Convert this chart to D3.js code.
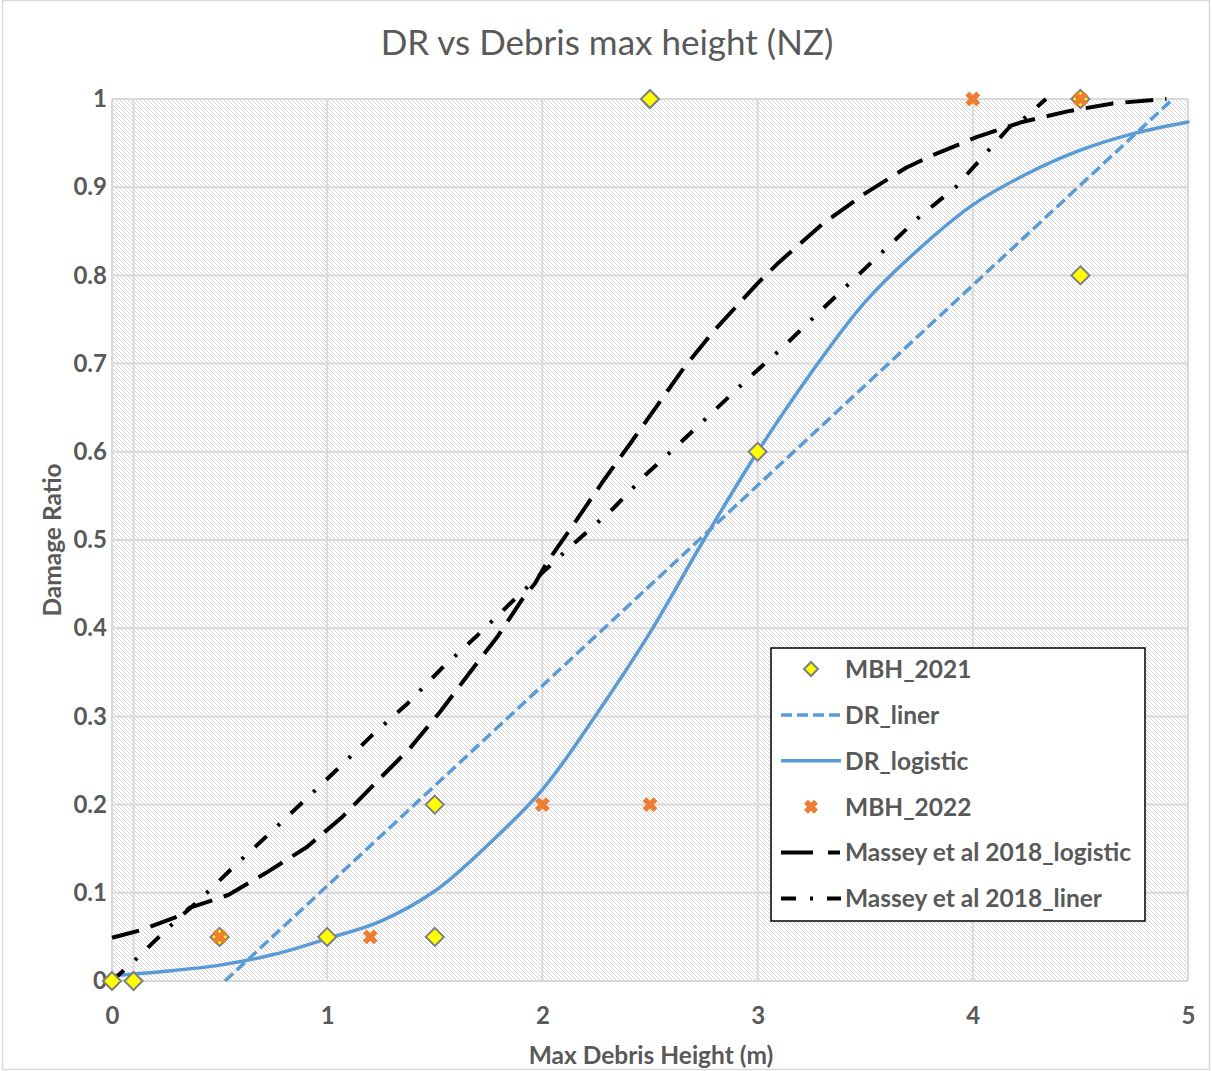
<!DOCTYPE html>
<html>
<head>
<meta charset="utf-8">
<script src="https://cdn.jsdelivr.net/npm/d3@7"></script>
<style>
  html, body { margin: 0; padding: 0; background: #fff; }
  svg { display: block; }
  text { font-family: Lato, "Open Sans", sans-serif; }
</style>
</head>
<body>
<svg id="chart" width="1212" height="1071"></svg>
<script>
// ---- data ----
const xTicks = [0, 1, 2, 3, 4, 5];
const yTicks = [0, 0.1, 0.2, 0.3, 0.4, 0.5, 0.6, 0.7, 0.8, 0.9, 1];
const xGrid = [0, 0.1, 1, 2, 3, 4, 5];

const mbh2021X = [0, 0.1, 0.5, 1, 1.5, 1.5, 2.5, 3, 4.5, 4.5];
const mbh2021Y = [0, 0, 0.05, 0.05, 0.2, 0.05, 1.0, 0.6, 1.0, 0.8];

const mbh2022X = [0.5, 1.2, 2, 2.5, 4, 4.5];
const mbh2022Y = [0.05, 0.05, 0.2, 0.2, 1.0, 1.0];

const drLinerX = [0.525, 4.93];
const drLinerY = [0, 1];

const drLogisticX = [0, 0.25, 0.5, 0.75, 1, 1.25, 1.5, 1.75, 2, 2.25, 2.5, 2.75, 3, 3.25, 3.5, 3.75, 4, 4.25, 4.5, 4.75, 5];
const drLogisticY = [0.006, 0.011, 0.018, 0.03, 0.048, 0.068, 0.102, 0.155, 0.217, 0.302, 0.395, 0.5, 0.6, 0.69, 0.77, 0.83, 0.88, 0.915, 0.942, 0.961, 0.974];

const masseyLogX = [0, 0.14, 0.325, 0.36, 0.54, 0.725, 0.906, 1.07, 1.23, 1.385, 1.524, 1.654, 1.79, 1.91, 1.966, 2.02, 2.16, 2.28, 2.41, 2.66, 2.8, 3.0, 3.1, 3.3, 3.5, 3.69, 3.82, 4.02, 4.23, 4.44, 4.65, 4.9];
const masseyLogY = [0.049, 0.058, 0.075, 0.083, 0.0975, 0.124, 0.152, 0.186, 0.226, 0.264, 0.305, 0.347, 0.39, 0.434, 0.451, 0.474, 0.523, 0.566, 0.61, 0.696, 0.738, 0.791, 0.815, 0.858, 0.893, 0.922, 0.937, 0.957, 0.974, 0.986, 0.995, 1.0];

const masseyLinX = [0, 0.1, 0.26, 0.42, 0.58, 0.74, 0.9, 1.06, 1.21, 1.375, 1.53, 1.69, 1.85, 2.0, 2.165, 2.33, 2.48, 2.64, 2.8, 2.96, 3.12, 3.28, 3.5, 3.75, 3.92, 4.07, 4.17, 4.23, 4.34];
const masseyLinY = [0, 0.022, 0.06, 0.095, 0.133, 0.169, 0.206, 0.243, 0.279, 0.315, 0.354, 0.39, 0.428, 0.463, 0.5, 0.536, 0.574, 0.61, 0.647, 0.684, 0.719, 0.757, 0.808, 0.866, 0.90, 0.941, 0.968, 0.976, 1.0];

const legendLabels = ["MBH_2021", "DR_liner", "DR_logistic", "MBH_2022", "Massey et al 2018_logistic", "Massey et al 2018_liner"];

// ---- layout ----
const W = 1212, H = 1071;
const plot = { left: 112, right: 1188, top: 99, bottom: 981 };
const textColor = "#595959";
const blue = "#5B9BD5", orange = "#ED7D31", yellow = "#FFFF00", markerEdge = "#7F7F7F";

const svg = d3.select("#chart");
const x = d3.scaleLinear().domain([0, 5]).range([plot.left, plot.right]);
const y = d3.scaleLinear().domain([0, 1]).range([plot.bottom, plot.top]);

// outer chart frame
svg.append("rect").attr("x", 2.5).attr("y", 0.5).attr("width", W - 5).attr("height", H - 2)
  .attr("fill", "#fff").attr("stroke", "#d9d9d9").attr("stroke-width", 1.5);

// hatch fill for the plot area
const defs = svg.append("defs");
const pat = defs.append("pattern").attr("id", "hatch").attr("patternUnits", "userSpaceOnUse")
  .attr("width", 4).attr("height", 4);
pat.append("rect").attr("width", 4).attr("height", 4).attr("fill", "#fff");
pat.append("path").attr("d", "M-1,-1 L5,5 M-1,3 L1,5 M3,-1 L5,1")
  .attr("stroke", "#d6d6d6").attr("stroke-width", 1);

svg.append("rect").attr("x", plot.left).attr("y", plot.top)
  .attr("width", plot.right - plot.left).attr("height", plot.bottom - plot.top)
  .attr("fill", "url(#hatch)");

// gridlines
const grid = svg.append("g").attr("stroke", "#d9d9d9").attr("stroke-width", 2);
grid.selectAll("line.h").data(yTicks).join("line").attr("class", "h")
  .attr("x1", plot.left).attr("x2", plot.right).attr("y1", d => y(d)).attr("y2", d => y(d));
grid.selectAll("line.v").data(xGrid).join("line").attr("class", "v")
  .attr("x1", d => x(d)).attr("x2", d => x(d)).attr("y1", plot.top).attr("y2", plot.bottom);

// axes (labels only)
const xAxis = svg.append("g").attr("transform", `translate(0,${plot.bottom})`)
  .call(d3.axisBottom(x).tickValues(xTicks).tickSize(0).tickPadding(26).tickFormat(d3.format("d")));
const yAxis = svg.append("g").attr("transform", `translate(${plot.left},0)`)
  .call(d3.axisLeft(y).tickValues(yTicks).tickSize(0).tickPadding(5).tickFormat(d => String(+d.toFixed(1))));
[xAxis, yAxis].forEach(a => {
  a.select(".domain").remove();
  a.selectAll("text").attr("fill", textColor).attr("font-size", 24).attr("font-weight", 700)
    .style("font-family", "Lato, sans-serif");
});

// titles
svg.append("text").attr("x", 607).attr("y", 55).attr("text-anchor", "middle")
  .attr("font-size", 35).attr("fill", textColor).text("DR vs Debris max height (NZ)");
svg.append("text").attr("x", 651).attr("y", 1064).attr("text-anchor", "middle")
  .attr("font-size", 24.5).attr("font-weight", 700).attr("fill", textColor).text("Max Debris Height (m)");
svg.append("text").attr("transform", "translate(61,540) rotate(-90)").attr("text-anchor", "middle")
  .attr("font-size", 24.5).attr("font-weight", 700).attr("fill", textColor).text("Damage Ratio");

// series
const zip = (xs, ys) => xs.map((v, i) => [v, ys[i]]);
const lineLinear = d3.line().x(d => x(d[0])).y(d => y(d[1]));
const lineSmooth = d3.line().x(d => x(d[0])).y(d => y(d[1])).curve(d3.curveCatmullRom.alpha(0.5));

const styles = {
  drLiner: { stroke: blue, width: 3.5, dash: "11,5", cap: "butt" },
  drLogistic: { stroke: blue, width: 3.5, dash: null, cap: "round" },
  masseyLog: { stroke: "#000", width: 4, dash: "28,12", cap: "butt" },
  masseyLin: { stroke: "#000", width: 4, dash: "16,15,3,15", cap: "butt" }
};
function drawLine(data, gen, st) {
  svg.append("path").datum(data).attr("d", gen).attr("fill", "none")
    .attr("stroke", st.stroke).attr("stroke-width", st.width)
    .attr("stroke-dasharray", st.dash).attr("stroke-linecap", st.cap)
    .attr("stroke-linejoin", "round");
}
drawLine(zip(drLinerX, drLinerY), lineLinear, styles.drLiner);
drawLine(zip(drLogisticX, drLogisticY), lineSmooth, styles.drLogistic);
drawLine(zip(masseyLogX, masseyLogY), lineLinear, styles.masseyLog);
drawLine(zip(masseyLinX, masseyLinY), lineLinear, styles.masseyLin);

// markers
const diamond = r => `M0,${-r} L${r},0 L0,${r} L${-r},0 Z`;
const cross = r => `M${-r},${-r} L${r},${r} M${-r},${r} L${r},${-r}`;
function drawDiamond(g, cx, cy, r) {
  g.append("path").attr("d", diamond(r)).attr("transform", `translate(${cx},${cy})`)
    .attr("fill", yellow).attr("stroke", markerEdge).attr("stroke-width", 2);
}
function drawCross(g, cx, cy, r) {
  g.append("path").attr("d", cross(r)).attr("transform", `translate(${cx},${cy})`)
    .attr("fill", "none").attr("stroke", orange).attr("stroke-width", 5.5).attr("stroke-linecap", "butt");
}
const markers = svg.append("g");
zip(mbh2021X, mbh2021Y).forEach(d => drawDiamond(markers, x(d[0]), y(d[1]), 9));
zip(mbh2022X, mbh2022Y).forEach(d => drawCross(markers, x(d[0]), y(d[1]), 5.5));

// legend
const lg = svg.append("g");
lg.append("rect").attr("x", 771).attr("y", 648).attr("width", 374).attr("height", 273)
  .attr("fill", "#fff").attr("stroke", "#000").attr("stroke-width", 1.5);
const rowY = i => 669 + i * 45.9;
const symX0 = 781, symX1 = 841, symC = 811;
legendLabels.forEach((lab, i) => {
  const cy = rowY(i);
  if (i === 0) drawDiamond(lg, symC, cy, 7);
  else if (i === 3) drawCross(lg, symC, cy, 5);
  else {
    const st = [null, styles.drLiner, styles.drLogistic, null, styles.masseyLog, styles.masseyLin][i];
    const dash = i === 4 ? "32,15,12" : i === 5 ? "15,14,3,14,14" : st.dash;
    lg.append("line").attr("x1", symX0).attr("x2", symX1).attr("y1", cy).attr("y2", cy)
      .attr("stroke", st.stroke).attr("stroke-width", st.width).attr("stroke-dasharray", dash);
  }
  lg.append("text").attr("x", 845).attr("y", cy).attr("dy", "0.36em")
    .attr("font-size", 24.5).attr("fill", textColor).attr("font-weight", 700).text(lab);
});
</script>
</body>
</html>
